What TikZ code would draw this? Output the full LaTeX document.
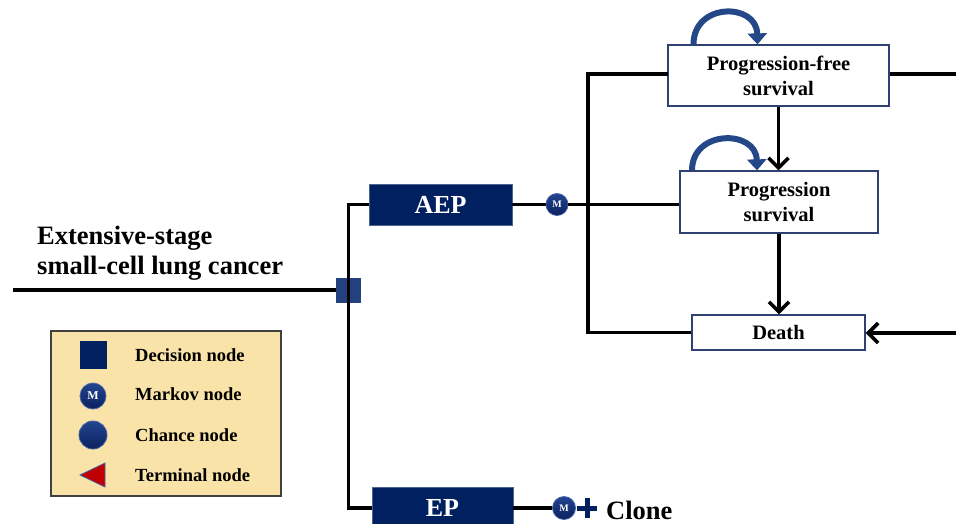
\documentclass[tikz,border=0pt]{standalone}
\usepackage{fontspec}
\setmainfont{Liberation Serif}
\usetikzlibrary{arrows.meta}
\definecolor{navy}{HTML}{002060}
\definecolor{decblue}{HTML}{24417F}
\definecolor{loopblue}{HTML}{244787}
\definecolor{boxedge}{HTML}{2F4170}
\definecolor{legfill}{HTML}{FAE3A8}
\definecolor{termred}{HTML}{C00000}
\definecolor{HTMLbb}{HTML}{23448F}
\definecolor{HTMLbc}{HTML}{0B215E}
\definecolor{HTMLbd}{HTML}{4262A8}
\tikzset{
  treeline/.style={line width=3.8pt, black},
  statebox/.style={draw=boxedge, line width=1.3pt, fill=white, align=center, font=\bfseries\fontsize{20.5}{25}\selectfont, inner sep=0pt},
  stratbox/.style={fill=navy, draw=navy!70!white, line width=0.6pt, text=white, font=\bfseries\fontsize{26}{30}\selectfont, inner sep=0pt},
  chance/.style={circle, minimum size=#1, inner sep=0pt, top color=HTMLbb, bottom color=HTMLbc, draw=HTMLbd, line width=0.8pt},
  markov/.style={chance=#1, text=white},
  leglabel/.style={anchor=west, font=\bfseries\fontsize{18.5}{22}\selectfont, inner sep=0pt},
  loop/.style={loopblue, line width=6pt, -{Triangle[length=11pt,width=19pt]}},
  statearrow/.style={line width=3.6pt, -{Straight Barb[length=10pt,width=20pt]}},
}
\begin{document}
\begin{tikzpicture}[x=1pt,y=-1pt]
\useasboundingbox (0,0) rectangle (956,523);
% main label
\node[anchor=south west, align=left, inner sep=0pt, font=\bfseries\fontsize{26.5}{30}\selectfont] (title) at (37,281) {Extensive-stage\\small-cell lung cancer};
% decision node
\coordinate (start) at (13,290);
\node[fill=decblue, minimum size=25pt, inner sep=0pt] (dec) at (348.5,290.5) {};
\draw[treeline] (start) -- (start -| dec.west);
% strategy boxes
\node[stratbox, minimum width=143pt, minimum height=41pt] (aep) at (440.5,204.5) {AEP};
\node[stratbox, minimum width=141pt, minimum height=41pt] (ep) at (442.5,508) {EP};
\draw[treeline] (aep.west) -- (aep.west -| dec) -- (ep.west -| dec) -- (ep.west);
% markov nodes
\node[markov=22pt, font=\bfseries\fontsize{10}{12}\selectfont] (m1) at (557,204.5) {M};
\node[markov=23pt, font=\bfseries\fontsize{10}{12}\selectfont] (m2) at (564,508) {M};
% states
\node[statebox, minimum width=221pt, minimum height=61pt] (pfs) at (778.5,75.5) {Progression-free\\survival};
\node[statebox, minimum width=198pt, minimum height=62pt] (prog) at (779,202) {Progression\\survival};
\node[statebox, minimum width=173pt, minimum height=35pt] (death) at (778.5,332.5) {Death};
\coordinate (vx) at (588,0);
\coordinate (pfsin) at (668,74);
\coordinate (pfsout) at (956,74);
\coordinate (deathin) at (956,333);
\draw[treeline] (aep.east) -- (m1);
\draw[treeline] (m1) -- (m1 -| prog.west);
\draw[treeline] (pfsin) -- (pfsin -| vx) -- (death.west -| vx) -- (death.west);
\draw[treeline] (pfsin -| pfs.east) -- (pfsout);
\draw[statearrow] (deathin) -- (deathin -| death.east);
\draw[statearrow] (pfs.south) -- (pfs.south |- prog.north);
\draw[statearrow] (prog.south) -- (prog.south |- death.north);
% self loops
\draw[loop] ([xshift=-85pt]pfs.north) .. controls ([xshift=-85pt,yshift=42pt]pfs.north) and ([xshift=-22pt,yshift=42pt]pfs.north) .. ([xshift=-21pt]pfs.north);
\draw[loop] ([xshift=-87pt]prog.north) .. controls ([xshift=-87pt,yshift=41pt]prog.north) and ([xshift=-23pt,yshift=41pt]prog.north) .. ([xshift=-22pt]prog.north);
% EP branch
\draw[treeline] (ep.east) -- (m2);
\draw[navy, line width=5pt] (577,508) -- (597,508) (587,498) -- (587,518);
\node[anchor=west, inner sep=0pt, font=\bfseries\fontsize{26.5}{30}\selectfont] (clone) at (606,510) {Clone};
% legend
\node[draw=black!75, line width=1.3pt, fill=legfill, minimum width=230pt, minimum height=165pt, inner sep=0pt] (legend) at (166,413.5) {};
\node[fill=navy, minimum width=27pt, minimum height=28pt, inner sep=0pt] (lsq) at (93.5,355) {};
\node[markov=26pt, font=\bfseries\fontsize{12}{14}\selectfont] (lm) at (93,396) {M};
\node[chance=28pt] (lc) at (93,435) {};
\draw[fill=termred, draw=HTMLbd, line width=0.8pt] (80,475) -- (105,463) -- (105,487) -- cycle;
\node[leglabel] (t1) at (135,355) {Decision node};
\node[leglabel] (t2) at (135,394) {Markov node};
\node[leglabel] (t3) at (135,435) {Chance node};
\node[leglabel] (t4) at (135,475) {Terminal node};
\end{tikzpicture}
\end{document}
